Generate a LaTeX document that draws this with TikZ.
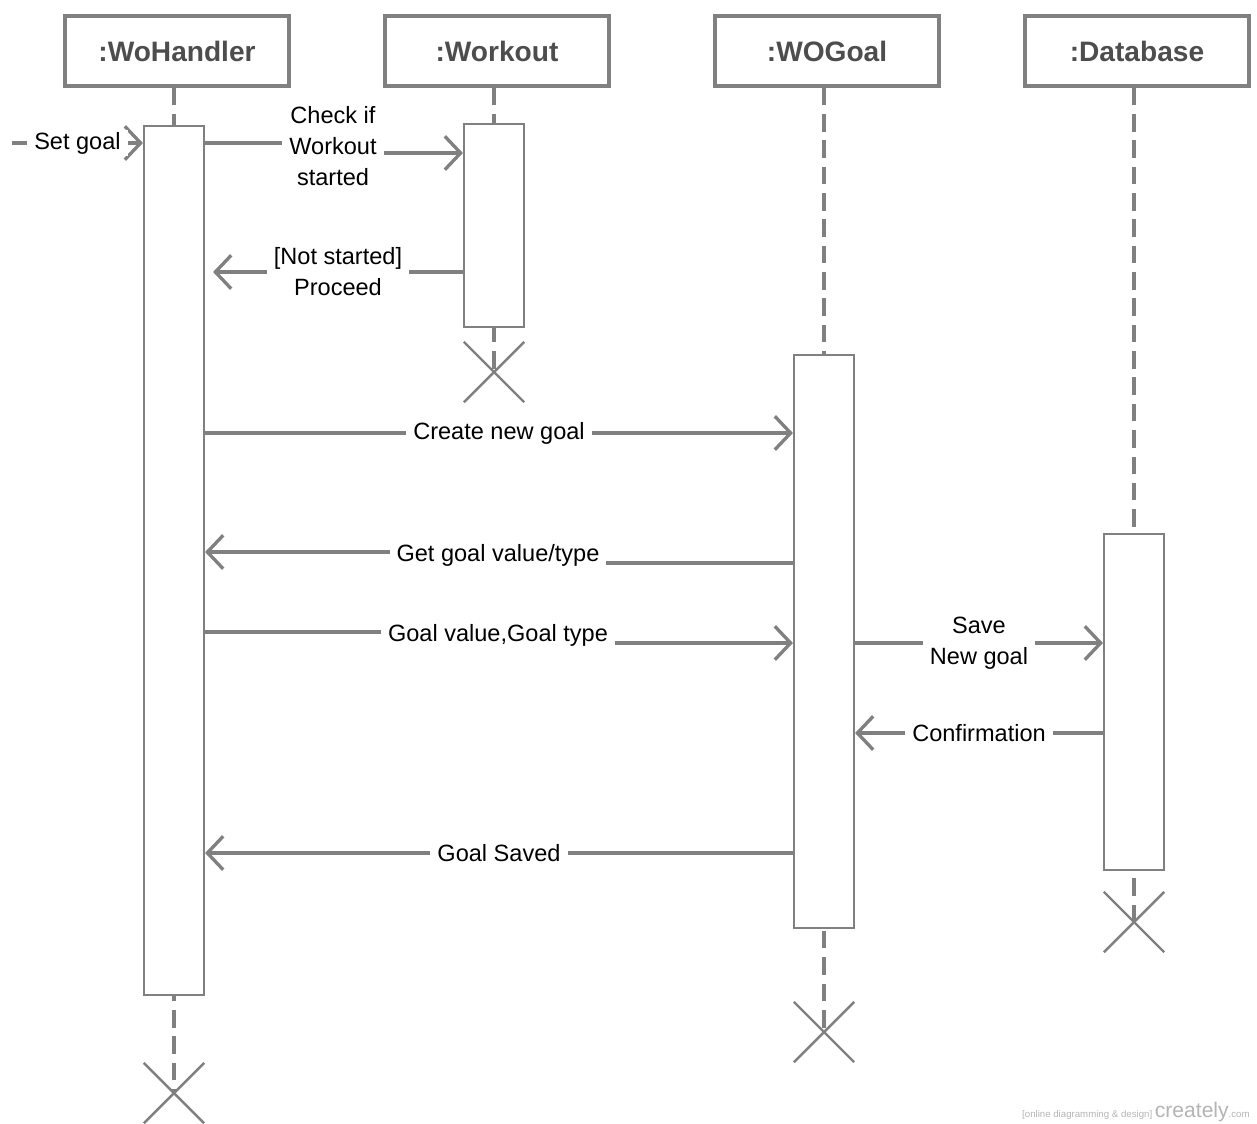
\documentclass[tikz,border=0pt]{standalone}
\usepackage{fontspec}
\setmainfont{Liberation Sans}
\usepackage{xcolor}
\usetikzlibrary{arrows.meta,shapes.misc,calc}
\definecolor{linegray}{HTML}{808080}
\definecolor{headtext}{HTML}{4D4D4D}
\definecolor{wmgray}{HTML}{B4B4B4}

\begin{document}
\begin{tikzpicture}[x=0.02cm,y=-0.02cm,
  head/.style={draw=linegray, line width=1.8pt, minimum width=4.48cm, minimum height=1.4cm, text=headtext, font=\fontsize{16}{19}\selectfont\bfseries},
  life/.style={draw=linegray, line width=1.9pt, dash pattern=on 10pt off 5pt},
  act/.style={draw=linegray, line width=1.2pt, fill=white, minimum width=1.2cm, inner sep=0pt},
  kill/.style={draw=linegray, line width=1.4pt, cross out, minimum size=1.16cm, inner sep=0pt},
  msg/.style={draw=linegray, line width=1.9pt, -{Straight Barb[length=9pt,width=19pt]}},
  lbl/.style={fill=white, inner xsep=4pt, inner ysep=1pt, align=center, font=\fontsize{13.4}{17.6}\selectfont}]
\useasboundingbox (0,0) rectangle (1257,1123);

\node[head] (hdWH) at (177,51) {:WoHandler};
\node[head] (hdWO) at (497,51) {:Workout};
\node[head] (hdGoal) at (827,51) {:WOGoal};
\node[head] (hdDB) at (1137,51) {:Database};

\node[kill] (xWH) at (174,1093) {};
\node[kill] (xWO) at (494,372) {};
\node[kill] (xGoal) at (824,1032) {};
\node[kill] (xDB) at (1134,922) {};

\draw[life] (hdWH.south -| xWH) -- (xWH.center);
\draw[life] (hdWO.south -| xWO) -- (xWO.center);
\draw[life] (hdGoal.south -| xGoal) -- (xGoal.center);
\draw[life] (hdDB.south -| xDB) -- (xDB.center);

\node[act, minimum height=17.38cm] (actWH) at (174,560.5) {};
\node[act, minimum height=4.06cm] (actWO) at (494,225.5) {};
\node[act, minimum height=11.46cm] (actGoal) at (824,641.5) {};
\node[act, minimum height=6.72cm] (actDB) at (1134,702) {};

\coordinate (start) at (12,143);
\draw[msg] (start) -- node[lbl] (lSet) {Set goal} (actWH.west |- 0,143);

\draw[msg] (actWH.east |- 0,143) -| (333,148) |- (actWO.west |- 0,153);
\node[lbl] (lCheck) at (333,146) {Check if\\Workout\\started};

\draw[msg] (actWO.west |- 0,272) -- node[lbl] (lProceed) {[Not started]\\Proceed} ($(actWH.east |- 0,272)+(8,0)$);

\draw[msg] (actWH.east |- 0,433) -- node[lbl] (lCreate) {Create new goal} (actGoal.west |- 0,433);

\draw[msg] (actGoal.west |- 0,563) -| (498,558) |- (actWH.east |- 0,552);
\node[lbl] (lGet) at (498,555) {Get goal value/type};

\draw[msg] (actWH.east |- 0,632) -| (498,638) |- (actGoal.west |- 0,643);
\node[lbl] (lValue) at (498,635) {Goal value,Goal type};

\draw[msg] (actGoal.east |- 0,643) -- node[lbl] (lSave) {Save\\New goal} (actDB.west |- 0,643);

\draw[msg] (actDB.west |- 0,733) -- node[lbl] (lConfirm) {Confirmation} (actGoal.east |- 0,733);

\draw[msg] (actGoal.west |- 0,853) -- node[lbl] (lSaved) {Goal Saved} (actWH.east |- 0,853);

\node[text=wmgray, anchor=base east, inner sep=0pt] (wm) at (1250,1117)
  {\fontsize{5.5}{6}\selectfont[online diagramming \& design]\ \fontsize{12}{12}\selectfont creately\fontsize{5.5}{6}\selectfont.com};
\end{tikzpicture}
\end{document}
